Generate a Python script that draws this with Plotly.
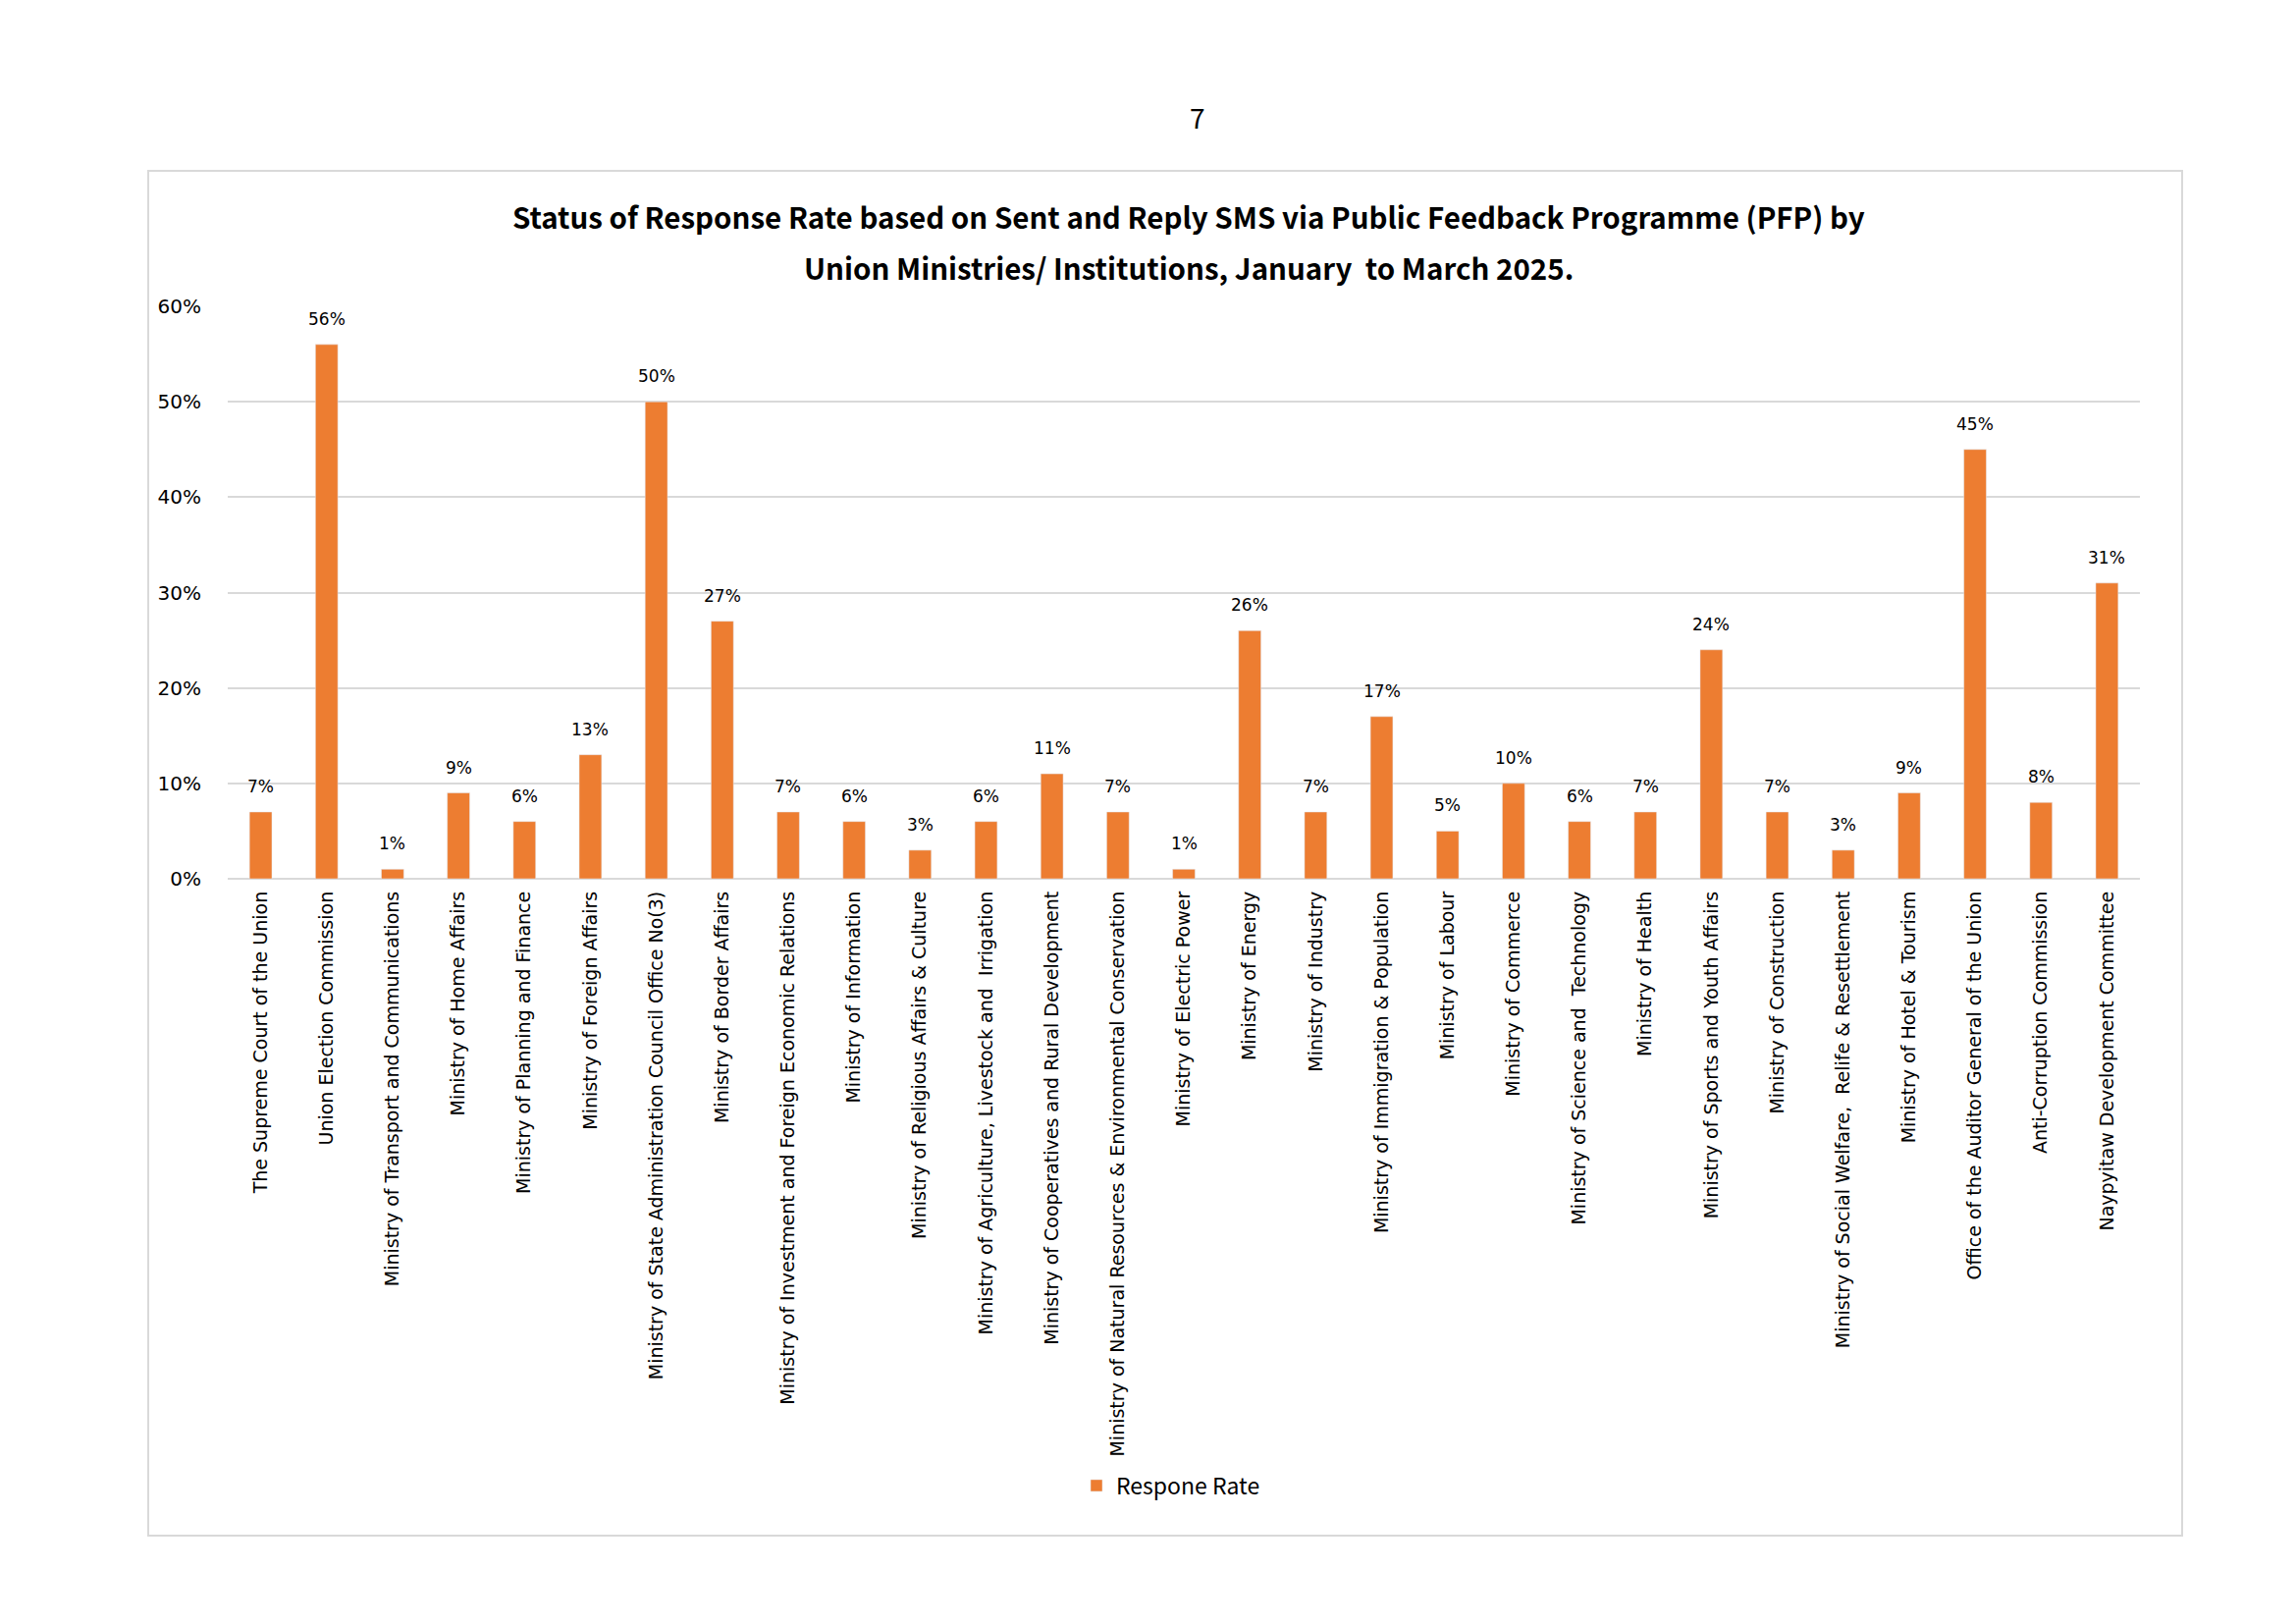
import plotly.graph_objects as go

# response rate per union ministry / institution, Jan-Mar 2025
ministries = [
    "The Supreme Court of the Union",
    "Union Election Commission",
    "Ministry of Transport and Communications",
    "Ministry of Home Affairs",
    "Ministry of Planning and Finance",
    "Ministry of Foreign Affairs",
    "Ministry of State Administration Council Office No(3)",
    "Ministry of Border Affairs",
    "Ministry of Investment and Foreign Economic Relations",
    "Ministry of Information",
    "Ministry of Religious Affairs & Culture",
    "Ministry of Agriculture, Livestock and  Irrigation",
    "Ministry of Cooperatives and Rural Development",
    "Ministry of Natural Resources & Environmental Conservation",
    "Ministry of Electric Power",
    "Ministry of Energy",
    "Ministry of Industry",
    "Ministry of Immigration & Population",
    "Ministry of Labour",
    "Ministry of Commerce",
    "Ministry of Science and  Technology",
    "Ministry of Health",
    "Ministry of Sports and Youth Affairs",
    "Ministry of Construction",
    "Ministry of Social Welfare,  Relife & Resettlement",
    "Ministry of Hotel & Tourism",
    "Office of the Auditor General of the Union",
    "Anti-Corruption Commission",
    "Naypyitaw Development Committee",
]
response_rate = [0.07, 0.56, 0.01, 0.09, 0.06, 0.13, 0.50, 0.27, 0.07, 0.06,
                 0.03, 0.06, 0.11, 0.07, 0.01, 0.26, 0.07, 0.17, 0.05, 0.10,
                 0.06, 0.07, 0.24, 0.07, 0.03, 0.09, 0.45, 0.08, 0.31]
y_ticks = [0, 0.1, 0.2, 0.3, 0.4, 0.5, 0.6]

title1 = "Status of Response Rate based on Sent and Reply SMS via Public Feedback Programme (PFP) by"
title2 = "Union Ministries/ Institutions, January  to March 2025."
page_no = "7"

W, H = 2339, 1654
OFF = 8                      # default body margin of the html page
L, R, T, B = 232, 2180, 312, 895   # plot area in page pixels

def px(x):
    return (x - L) / (R - L)

def py(y):
    return (B - y) / (B - T)

fig = go.Figure()
fig.add_trace(go.Bar(
    x=ministries, y=response_rate, name="Respone Rate",
    marker_color="#ED7D31",
))

# value labels above bars
for m, v in zip(ministries, response_rate):
    fig.add_annotation(x=m, y=v, text=f"{round(v*100)}%", showarrow=False,
                       yanchor="bottom", xanchor="center", yshift=14,
                       font=dict(family="DejaVu Sans", size=17, color="black"))

fig.update_layout(
    width=W - OFF, height=H - OFF,
    margin=dict(l=L - OFF, r=W - R, t=T - OFF, b=H - B, pad=0),
    paper_bgcolor="white", plot_bgcolor="white",
    bargap=0.66,
    showlegend=True,
    legend=dict(orientation="h", x=px(1097), xanchor="left", y=py(1513), yanchor="middle",
                font=dict(family="Noto Sans CJK JP", size=23, color="black")),
    font=dict(family="DejaVu Sans", color="black"),
)
fig.update_xaxes(
    tickangle=-90, tickfont=dict(family="DejaVu Sans", size=19, color="black"),
    showgrid=False, showline=False, ticks="", ticklabelstandoff=8,
)
fig.update_yaxes(
    range=[0, 0.6], tickvals=y_ticks, tickformat=".0%",
    tickfont=dict(family="DejaVu Sans", size=20, color="black"),
    showgrid=True, gridcolor="#d9d9d9", gridwidth=2,
    zeroline=True, zerolinecolor="#d9d9d9", zerolinewidth=2,
    showline=False, ticks="", ticklabelstandoff=26,
)

# page border, page number and the two title lines
fig.add_shape(type="rect", xref="paper", yref="paper",
              x0=px(151), x1=px(2223), y0=py(1564), y1=py(174),
              line=dict(color="#d9d9d9", width=2), layer="below")
fig.add_annotation(text=page_no, xref="paper", yref="paper", x=px(1220), y=py(118.5),
                   xanchor="center", yanchor="middle", showarrow=False,
                   font=dict(family="Noto Sans CJK JP", size=28, color="black"))
fig.add_annotation(text="<b>" + title1 + "</b>", xref="paper", yref="paper",
                   x=px(1211), y=py(220), xanchor="center", yanchor="middle", showarrow=False,
                   font=dict(family="Noto Sans CJK JP", size=29.5, color="black"))
fig.add_annotation(text="<b>" + title2 + "</b>", xref="paper", yref="paper",
                   x=px(1211), y=py(272), xanchor="center", yanchor="middle", showarrow=False,
                   font=dict(family="Noto Sans CJK JP", size=29.5, color="black"))

fig.write_html("out.html")
